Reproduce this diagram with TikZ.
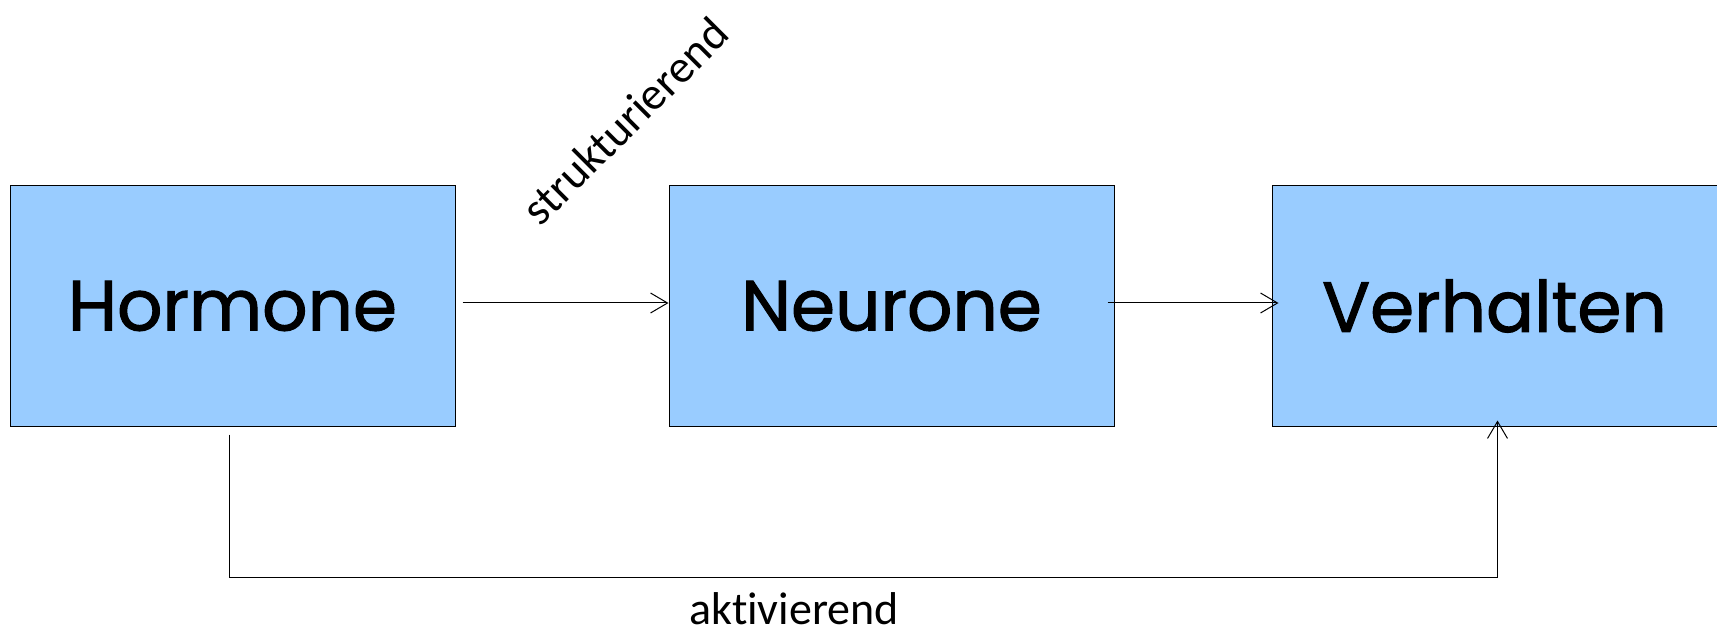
\documentclass[tikz,border=0pt]{standalone}
\usepackage{fontspec}
\setmainfont{Carlito}[Ligatures=NoCommon]
\newfontfamily\boxfont{Poppins}[FakeBold=1.5]
\usetikzlibrary{positioning, arrows.meta}
\definecolor{boxblue}{HTML}{99CCFF}
\tikzset{
    >={Straight Barb[length=17pt,width=20pt]}, % open arrow heads
    every path/.style={line width=1pt}, % thin lines everywhere
    stage/.style={draw, fill=boxblue, minimum width=445pt, minimum height=240pt, inner sep=0pt,
        font=\boxfont\fontsize{71}{80}\selectfont}, % the three blue boxes
    effect/.style={font=\fontsize{46}{52}\selectfont, inner sep=0pt}, % labels of the arrows
}

\begin{document}
\begin{tikzpicture}[x=1pt, y=-1pt]
        \useasboundingbox (0,0) rectangle (1717,636);

        \node[stage] (H) at (232.5,306) {Hormone};
        \node[stage, right=213pt of H] (N) {Neurone};
        \node[stage, right=157pt of N] (V) {Verhalten};

        \draw[->] ([xshift=7pt,yshift=3pt]H.east) -- ([yshift=3pt]N.west);
        \draw[->] ([xshift=-7pt,yshift=3pt]N.east) -- ([xshift=7pt,yshift=3pt]V.west);
        \draw[->] ([xshift=-3pt,yshift=-8pt]H.south) -- ++(0,143) coordinate (low)
            -| ([xshift=3pt,yshift=6pt]V.south);

        \node[effect, rotate=45] (str) at (625,121) {strukturierend};
        \node[effect, anchor=base] (akt) at (794,624) {aktivierend};
    \end{tikzpicture}
\end{document}
